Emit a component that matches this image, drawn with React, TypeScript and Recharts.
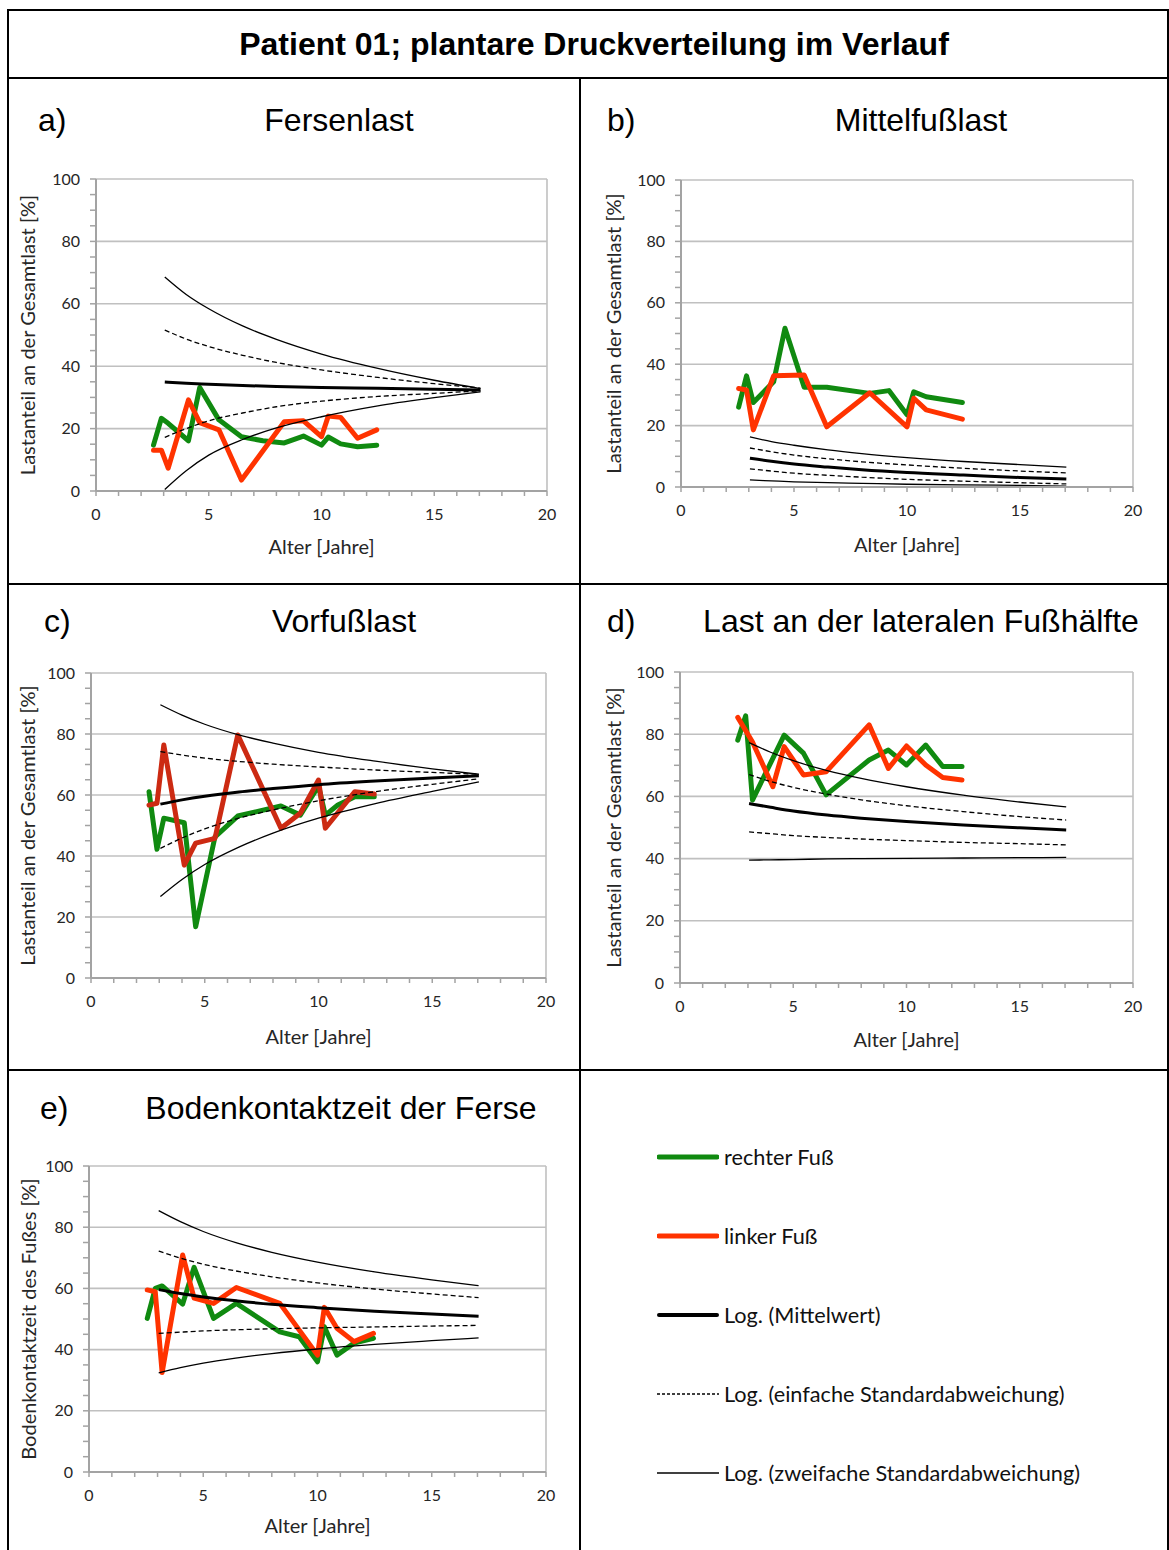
import React from 'react';
import { LineChart, Line, XAxis, YAxis, CartesianGrid } from 'recharts';

// Visit ages (years) shared by all measurement series
const ages = [2.55, 2.9, 3.2, 4.1, 4.6, 5.45, 6.45, 7.4, 8.35, 9.2, 10.0, 10.3, 10.85, 11.6, 12.45];
// Ages at which the logarithmic reference curves are sampled
const trendAges = [3.05, 4, 5, 6.5, 8, 10, 12.5, 15, 17.05];

const xTicks = [0, 1, 2, 3, 4, 5, 6, 7, 8, 9, 10, 11, 12, 13, 14, 15, 16, 17, 18, 19, 20];
const yTicks = [0, 5, 10, 15, 20, 25, 30, 35, 40, 45, 50, 55, 60, 65, 70, 75, 80, 85, 90, 95, 100];

// a) Fersenlast
const heelRight = [14.7, 23.3, 21.7, 16.1, 33.2, 22.8, 17.4, 16.1, 15.4, 17.6, 14.7, 17.3, 15.1, 14.2, 14.7];
const heelLeft = [13.1, 13.1, 7.3, 29.2, 21.9, 19.6, 3.5, null, 22.2, 22.5, 17.4, 24.0, 23.6, 16.9, 19.6];
const heelSd2Up = [68.6, 63.0, 58.4, 52.9, 48.6, 43.9, 39.3, 35.5, 32.8];
const heelSd1Up = [51.6, 48.7, 46.3, 43.5, 41.2, 38.8, 36.4, 34.4, 33.0];
const heelMean = [34.9, 34.5, 34.2, 33.8, 33.5, 33.2, 32.9, 32.6, 32.4];
const heelSd1Lo = [17.2, 20.0, 22.5, 25.0, 27.0, 28.8, 30.3, 31.3, 32.1];
const heelSd2Lo = [0.5, 6.5, 11.5, 16.5, 20.2, 23.8, 27.3, 29.9, 31.8];

// b) Mittelfußlast
const midRight = [26.0, 36.2, 27.5, 34.3, 51.7, 32.5, 32.5, null, 30.5, 31.4, 23.5, 31.0, 29.4, null, 27.5];
const midLeft = [32.1, 31.6, 18.6, 36.2, null, 36.5, 19.6, null, 30.7, null, 19.6, 28.9, 25.1, null, 22.1];
const midSd2Up = [16.3, 14.8, 13.6, 12.1, 10.9, 9.6, 8.3, 7.3, 6.5];
const midSd1Up = [12.7, 11.5, 10.4, 9.2, 8.2, 7.2, 6.1, 5.2, 4.6];
const midMean = [9.4, 8.4, 7.5, 6.5, 5.6, 4.7, 3.9, 3.1, 2.6];
const midSd1Lo = [5.9, 5.2, 4.5, 3.8, 3.2, 2.5, 1.9, 1.4, 1.0];
const midSd2Lo = [2.3, 2.0, 1.7, 1.4, 1.2, 0.9, 0.7, 0.5, 0.3];

// c) Vorfußlast
const foreRight = [61.1, 42.2, 52.4, 50.9, 16.8, 46.3, 53.1, null, 56.4, 53.4, 63.0, 53.4, 56.7, 59.4, 59.4];
const foreLeft = [56.7, 57.3, 76.4, 37.0, 44.2, 45.8, 79.7, null, 49.1, 54.0, 64.9, 49.1, null, 61.1, 60.3];
const foreSd2Up = [89.6, 86.2, 83.2, 79.7, 77.0, 74.0, 71.1, 68.6, 66.8];
const foreSd1Up = [74.2, 73.1, 72.1, 71.0, 70.1, 69.2, 68.2, 67.4, 66.8];
const foreMean = [57.0, 58.4, 59.6, 61.0, 62.1, 63.4, 64.6, 65.6, 66.3];
const foreSd1Lo = [42.5, 45.9, 48.9, 52.4, 55.1, 58.1, 61.1, 63.5, 65.3];
const foreSd2Lo = [26.7, 32.3, 37.2, 42.9, 47.5, 52.4, 57.2, 61.2, 64.3];

// d) Last an der lateralen Fußhälfte
const latRight = [78.1, 85.9, 58.8, null, 79.7, 73.9, 60.5, null, 71.7, 74.9, 70.1, null, 76.5, 69.6, 69.6];
const latLeft = [85.4, null, 77.5, 63.1, 76.0, 66.9, 67.9, null, 83.0, 69.0, 76.2, null, 70.1, 66.1, 65.3];
const latSd2Up = [77.3, 74.2, 71.5, 68.3, 65.8, 63.1, 60.4, 58.2, 56.6];
const latSd1Up = [67.0, 64.8, 62.9, 60.7, 58.9, 57.0, 55.1, 53.5, 52.4];
const latMean = [57.7, 56.5, 55.3, 54.0, 53.0, 51.9, 50.8, 49.9, 49.2];
const latSd1Lo = [48.6, 48.0, 47.4, 46.8, 46.3, 45.8, 45.2, 44.8, 44.4];
const latSd2Lo = [39.5, 39.6, 39.7, 39.9, 40.0, 40.1, 40.2, 40.3, 40.4];

// e) Bodenkontaktzeit der Ferse
const contactRight = [50.2, 60.0, 60.8, 54.9, 66.9, 50.2, 55.1, null, 45.8, 44.2, 36.0, 47.5, 38.2, 42.1, 43.7];
const contactLeft = [59.5, 58.9, 32.5, 70.9, 56.8, 55.1, 60.3, null, 55.1, null, 38.2, 53.8, 47.0, 42.6, 45.3];
const contactSd2Up = [85.4, 81.8, 78.6, 74.8, 71.8, 68.6, 65.4, 62.8, 60.9];
const contactSd1Up = [72.2, 69.9, 67.9, 65.6, 63.8, 61.8, 59.8, 58.2, 57.0];
const contactMean = [59.6, 58.3, 57.2, 55.9, 54.8, 53.7, 52.5, 51.6, 50.9];
const contactSd1Lo = [45.3, 45.7, 46.1, 46.5, 46.8, 47.1, 47.4, 47.7, 47.9];
const contactSd2Lo = [32.4, 34.1, 35.6, 37.3, 38.7, 40.2, 41.7, 42.9, 43.8];

const GREEN = '#108a10';
const RED = '#ff3300';
const RED_DARK = '#cc2a12';
const AXIS_GRAY = '#a3a3a3';
const GRID_GRAY = '#c0c0c0';
const TEXT = '#262626';
const AXIS_FONT = 'Lato, "Open Sans", sans-serif';
const ARIAL = '"Liberation Sans", Arial, sans-serif';

const toPoints = (xs: number[], ys: (number | null)[]) => xs.map((x, i) => ({ x, y: ys[i] }));

type Trend = { sd2Up: number[]; sd1Up: number[]; mean: number[]; sd1Lo: number[]; sd2Lo: number[] };

type PanelProps = {
  plotLeft: number;
  plotTop: number;
  plotW: number;
  plotH: number;
  yLabel: string;
  yLabelOffset: number;
  xLabelOffset: number;
  right: (number | null)[];
  left: (number | null)[];
  leftColor: string;
  trend: Trend;
};

const AXIS_W = 90;
const AXIS_H = 75;
const TOP_PAD = 15;
const RIGHT_PAD = 15;

function Panel(p: PanelProps) {
  const width = AXIS_W + p.plotW + RIGHT_PAD;
  const height = TOP_PAD + p.plotH + AXIS_H;
  const thin = { stroke: '#000', strokeWidth: 1.3 };
  return (
    <div style={{ position: 'absolute', left: p.plotLeft - AXIS_W, top: p.plotTop - TOP_PAD }}>
      <LineChart width={width} height={height} margin={{ top: TOP_PAD, right: RIGHT_PAD, left: 0, bottom: 0 }}>
        <CartesianGrid
          stroke={GRID_GRAY}
          strokeWidth={1.6}
          horizontalValues={[20, 40, 60, 80, 100]}
          verticalValues={[20]}
        />
        <XAxis
          type="number"
          dataKey="x"
          domain={[0, 20]}
          ticks={xTicks}
          interval={0}
          allowDataOverflow
          height={AXIS_H}
          tickSize={5}
          tickMargin={13}
          tickFormatter={(v: number) => (v % 5 === 0 ? String(v) : '')}
          axisLine={{ stroke: AXIS_GRAY, strokeWidth: 2 }}
          tickLine={{ stroke: AXIS_GRAY, strokeWidth: 1.5 }}
          tick={{ fill: TEXT, fontSize: 16, fontFamily: AXIS_FONT }}
          label={{
            value: 'Alter [Jahre]',
            position: 'insideBottom',
            offset: p.xLabelOffset,
            style: { fill: TEXT, fontSize: 20, fontFamily: AXIS_FONT },
          }}
        />
        <YAxis
          type="number"
          domain={[0, 100]}
          ticks={yTicks}
          interval={0}
          allowDataOverflow
          width={AXIS_W}
          tickSize={6}
          tickMargin={10}
          tickFormatter={(v: number) => (v % 20 === 0 ? String(v) : '')}
          axisLine={{ stroke: AXIS_GRAY, strokeWidth: 2 }}
          tickLine={{ stroke: AXIS_GRAY, strokeWidth: 1.5 }}
          tick={{ fill: TEXT, fontSize: 16, fontFamily: AXIS_FONT }}
          label={{
            value: p.yLabel,
            angle: -90,
            position: 'insideLeft',
            offset: p.yLabelOffset,
            style: { textAnchor: 'middle', whiteSpace: 'pre', fill: TEXT, fontSize: 20, fontFamily: AXIS_FONT },
          }}
        />
        <Line data={toPoints(ages, p.right)} dataKey="y" type="linear" stroke={GREEN} strokeWidth={5}
          strokeLinejoin="round" strokeLinecap="round" dot={false} connectNulls isAnimationActive={false} />
        <Line data={toPoints(ages, p.left)} dataKey="y" type="linear" stroke={p.leftColor} strokeWidth={5}
          strokeLinejoin="round" strokeLinecap="round" dot={false} connectNulls isAnimationActive={false} />
        <Line data={toPoints(trendAges, p.trend.sd2Up)} dataKey="y" type="monotone" {...thin} dot={false} isAnimationActive={false} />
        <Line data={toPoints(trendAges, p.trend.sd1Up)} dataKey="y" type="monotone" {...thin} strokeDasharray="5 3" dot={false} isAnimationActive={false} />
        <Line data={toPoints(trendAges, p.trend.mean)} dataKey="y" type="monotone" stroke="#000" strokeWidth={3} dot={false} isAnimationActive={false} />
        <Line data={toPoints(trendAges, p.trend.sd1Lo)} dataKey="y" type="monotone" {...thin} strokeDasharray="5 3" dot={false} isAnimationActive={false} />
        <Line data={toPoints(trendAges, p.trend.sd2Lo)} dataKey="y" type="monotone" {...thin} dot={false} isAnimationActive={false} />
      </LineChart>
    </div>
  );
}

const LOAD_LABEL = 'Lastanteil an der Gesamtlast  [%]';

function Rule({ x, y, w, h }: { x: number; y: number; w: number; h: number }) {
  return <div style={{ position: 'absolute', left: x, top: y, width: w, height: h, background: '#000' }} />;
}

function Heading({ x, cy, text, center }: { x: number; cy: number; text: string; center?: boolean }) {
  return (
    <div
      style={{
        position: 'absolute',
        left: x,
        top: cy,
        transform: center ? 'translate(-50%, -50%)' : 'translateY(-50%)',
        fontFamily: ARIAL,
        fontSize: 32,
        lineHeight: 1,
        whiteSpace: 'nowrap',
        color: '#000',
      }}
    >
      {text}
    </div>
  );
}

const legendItems = [
  { label: 'rechter Fuß', color: GREEN, width: 5, dash: undefined as string | undefined },
  { label: 'linker Fuß', color: RED, width: 5, dash: undefined },
  { label: 'Log. (Mittelwert)', color: '#000', width: 4, dash: undefined },
  { label: 'Log. (einfache Standardabweichung)', color: '#000', width: 1.3, dash: '3 2' },
  { label: 'Log. (zweifache Standardabweichung)', color: '#000', width: 1.5, dash: undefined },
];

function LegendBlock() {
  return (
    <>
      {legendItems.map((it, i) => {
        const cy = 1157 + i * 79;
        return (
          <div key={it.label} style={{ position: 'absolute', left: 657, top: cy - 15, height: 30, display: 'flex', alignItems: 'center' }}>
            <svg width={62} height={30} style={{ display: 'block' }}>
              <line x1={it.width > 3 ? 2 : 0} y1={15} x2={it.width > 3 ? 60 : 62} y2={15} stroke={it.color}
                strokeWidth={it.width} strokeDasharray={it.dash} strokeLinecap={it.width > 3 ? 'round' : 'butt'} />
            </svg>
            <span style={{ marginLeft: 5, fontFamily: AXIS_FONT, fontSize: 21.7, color: '#111', whiteSpace: 'nowrap' }}>{it.label}</span>
          </div>
        );
      })}
    </>
  );
}

export default function App() {
  return (
    <div style={{ position: 'absolute', left: 0, top: 0, width: 1169, height: 1550, background: '#fff', overflow: 'hidden' }}>
      {/* table frame */}
      <Rule x={8} y={9} w={1161} h={2} />
      <Rule x={7} y={9} w={2} h={1541} />
      <Rule x={1167} y={9} w={2} h={1541} />
      <Rule x={8} y={77} w={1161} h={2} />
      <Rule x={579} y={78} w={2} h={1472} />
      <Rule x={8} y={583} w={1161} h={2} />
      <Rule x={8} y={1069} w={1161} h={2} />

      <div
        style={{
          position: 'absolute',
          left: 594,
          top: 44,
          transform: 'translate(-50%, -50%)',
          fontFamily: ARIAL,
          fontWeight: 'bold',
          fontSize: 32,
          lineHeight: 1,
          whiteSpace: 'nowrap',
        }}
      >
        Patient 01; plantare Druckverteilung im Verlauf
      </div>

      <Heading x={38} cy={120} text="a)" />
      <Heading x={339} cy={120} text="Fersenlast" center />
      <Heading x={607} cy={120} text="b)" />
      <Heading x={921} cy={120} text="Mittelfußlast" center />
      <Heading x={44} cy={621} text="c)" />
      <Heading x={344} cy={621} text="Vorfußlast" center />
      <Heading x={607} cy={621} text="d)" />
      <Heading x={921} cy={621} text="Last an der lateralen Fußhälfte" center />
      <Heading x={40} cy={1108} text="e)" />
      <Heading x={341} cy={1108} text="Bodenkontaktzeit der Ferse" center />

      <Panel plotLeft={96} plotTop={179} plotW={451} plotH={312} yLabel={LOAD_LABEL} yLabelOffset={22} xLabelOffset={12}
        right={heelRight} left={heelLeft} leftColor={RED}
        trend={{ sd2Up: heelSd2Up, sd1Up: heelSd1Up, mean: heelMean, sd1Lo: heelSd1Lo, sd2Lo: heelSd2Lo }} />
      <Panel plotLeft={681} plotTop={180} plotW={452} plotH={307} yLabel={LOAD_LABEL} yLabelOffset={23} xLabelOffset={10}
        right={midRight} left={midLeft} leftColor={RED}
        trend={{ sd2Up: midSd2Up, sd1Up: midSd1Up, mean: midMean, sd1Lo: midSd1Lo, sd2Lo: midSd2Lo }} />
      <Panel plotLeft={91} plotTop={673} plotW={455} plotH={305} yLabel={LOAD_LABEL} yLabelOffset={27} xLabelOffset={9}
        right={foreRight} left={foreLeft} leftColor={RED_DARK}
        trend={{ sd2Up: foreSd2Up, sd1Up: foreSd1Up, mean: foreMean, sd1Lo: foreSd1Lo, sd2Lo: foreSd2Lo }} />
      <Panel plotLeft={680} plotTop={672} plotW={453} plotH={311} yLabel={LOAD_LABEL} yLabelOffset={24} xLabelOffset={11}
        right={latRight} left={latLeft} leftColor={RED}
        trend={{ sd2Up: latSd2Up, sd1Up: latSd1Up, mean: latMean, sd1Lo: latSd1Lo, sd2Lo: latSd2Lo }} />
      <Panel plotLeft={89} plotTop={1166} plotW={457} plotH={306} yLabel="Bodenkontaktzeit des Fußes [%]" yLabelOffset={30} xLabelOffset={14}
        right={contactRight} left={contactLeft} leftColor={RED}
        trend={{ sd2Up: contactSd2Up, sd1Up: contactSd1Up, mean: contactMean, sd1Lo: contactSd1Lo, sd2Lo: contactSd2Lo }} />

      <LegendBlock />
    </div>
  );
}
